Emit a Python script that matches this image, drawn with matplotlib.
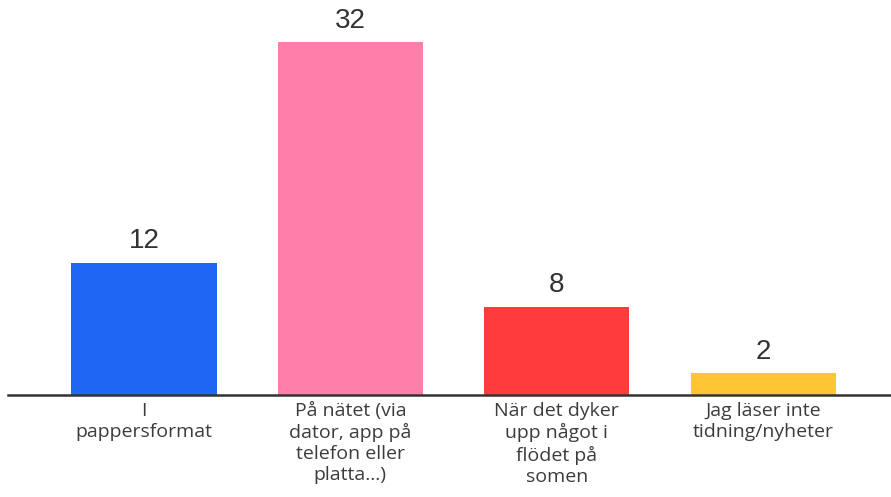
import numpy as np
from matplotlib import pyplot as plt

# answers and counts
categories = ["I\npappersformat",
              "På nätet (via\ndator, app på\ntelefon eller\nplatta...)",
              "När det dyker\nupp något i\nflödet på\nsomen",
              "Jag läser inte\ntidning/nyheter"]
values = [12, 32, 8, 2]
colors = ["#1f66f2", "#ff7eaa", "#ff3b3b", "#ffc533"]

plt.rcParams['font.family'] = ['Open Sans', 'DejaVu Sans']

fig = plt.figure(figsize=(8.91, 4.97), dpi=100)
ax = fig.add_axes([8/891, 102/497, 883/891, 395/497])

x = np.arange(len(values))
bars = ax.bar(x, values, width=0.703, color=colors)

for xi, v in zip(x, values):
    ax.annotate(str(v), (xi, v), xytext=(0, 6), textcoords="offset points",
                ha="center", va="bottom", fontsize=20, color="#333333",
                family=['Liberation Sans', 'DejaVu Sans'])

ax.set_xlim(-0.659, 3.62)
ax.set_ylim(0, 35.8)
ax.set_xticks(x)
ax.set_xticklabels(categories, fontsize=14, color="#3c3c3c", linespacing=1.22)
ax.tick_params(axis="x", length=0, pad=5)
ax.set_yticks([])
for s in ["top", "right", "left"]:
    ax.spines[s].set_visible(False)
ax.spines["bottom"].set_color("#333333")
ax.spines["bottom"].set_linewidth(1.8)

fig.savefig("out.png", dpi=100)
